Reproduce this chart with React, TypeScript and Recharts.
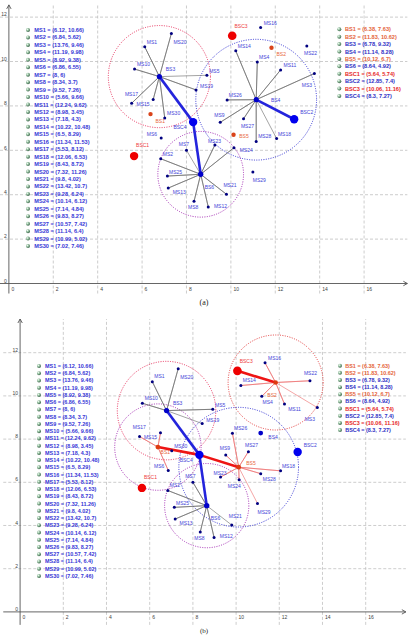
import React from 'react';
import { ScatterChart, Scatter, XAxis, YAxis, ReferenceLine } from 'recharts';

// mobile stations
const msX = [6.12, 6.84, 13.76, 11.19, 8.92, 6.86, 8, 8.34, 9.52, 5.66, 12.24, 8.98, 7.18, 10.22, 6.5,
  11.34, 5.53, 12.06, 8.43, 7.32, 9.8, 13.42, 9.28, 10.14, 7.14, 9.83, 10.57, 11.14, 10.99, 7.02];
const msY = [10.66, 5.62, 9.46, 9.98, 9.38, 6.55, 6, 3.7, 7.26, 9.66, 9.62, 3.45, 4.3, 10.48, 8.29,
  11.53, 8.12, 6.53, 8.72, 11.26, 4.02, 10.7, 6.24, 6.12, 4.84, 8.27, 7.42, 6.4, 5.02, 7.46];

// base stations + controllers
const bsNames = ['BS1', 'BS2', 'BS3', 'BS4', 'BS5', 'BS6', 'BSC1', 'BSC2', 'BSC3', 'BSC4'];
const bsX = [6.38, 11.83, 6.78, 11.14, 10.12, 8.64, 5.64, 12.85, 10.06, 8.3];
const bsY = [7.63, 10.62, 9.32, 8.28, 6.7, 4.92, 5.74, 7.4, 11.16, 7.27];

const xTicks = [0, 2, 4, 6, 8, 10, 12, 14, 16];
const yTicks = [0, 2, 4, 6, 8, 10, 12];

// (a)
const starsA = [
  { bs: 'BS3', ms: [1, 20, 10, 17, 15, 30, 19, 5] },
  { bs: 'BS4', ms: [14, 4, 11, 3, 26, 9, 27, 28, 18] },
  { bs: 'BS6', ms: [23, 24, 21, 12, 8, 13, 25, 2, 7] },
];
const backhaulA = [['BS3', 'BSC4'], ['BS6', 'BSC4'], ['BS4', 'BSC2']];
const coverA = [{ bs: 'BS3', r: 2.3 }, { bs: 'BS4', r: 2.72 }, { bs: 'BS6', r: 1.93 }];

// (b)
const starsB = [
  { bs: 'BS3', ms: [1, 20, 10, 5, 19] },
  { bs: 'BS1', ms: [17, 15, 6, 30] },
  { bs: 'BS2', ms: [16, 22, 14, 4, 11, 3] },
  { bs: 'BS5', ms: [26, 9, 27, 18, 28, 23, 24, 29] },
  { bs: 'BS6', ms: [7, 2, 25, 13, 8, 12, 21] },
];
const backhaulB = [['BS3', 'BSC4'], ['BS6', 'BSC4'], ['BS1', 'BSC4'], ['BS5', 'BSC4'], ['BS2', 'BSC3']];
const coverB = [{ bs: 'BS3', r: 2.28 }, { bs: 'BS2', r: 2.2 }, { bs: 'BS1', r: 2.0 }, { bs: 'BS5', r: 2.77 }, { bs: 'BS6', r: 1.95 }];

const FONT = '"Liberation Sans", Arial, sans-serif';
const ORANGE_DOT = '#d9431a';
const ORANGE_TXT = '#e8673a';
const BLUE_DOT = '#0000c8';
const BLUE_TXT = '#4444d8';
const RED_DOT = '#ee0000';
const RED_TXT = '#ee3c3c';
const PINK = '#e8305c';
const PURPLE = '#a42cb4';
const BLUE_C = '#3434d4';
const GRAY_LINE = '#666';
const RED_LINE = '#ec6a6a';

const bsText: Record<string, string> = {
  BS1: ORANGE_TXT, BS2: ORANGE_TXT, BS3: BLUE_TXT, BS4: BLUE_TXT, BS5: ORANGE_TXT, BS6: BLUE_TXT,
  BSC1: RED_TXT, BSC2: BLUE_TXT, BSC3: RED_TXT, BSC4: BLUE_TXT,
};
const bsLegendColor: Record<string, string> = {
  BS1: '#e5643a', BS2: '#e5643a', BS3: '#2e2ec4', BS4: '#2e2ec4', BS5: '#e5643a', BS6: '#2e2ec4',
  BSC1: '#e62626', BSC2: '#2e2ec4', BSC3: '#e62626', BSC4: '#2e2ec4',
};

// label offsets [dx, dy baseline] relative to the point
const labelOffA: Record<string, [number, number]> = {
  MS1: [2, -3.2], MS20: [2, 10.5], MS10: [2.4, -3.2], BS3: [6.4, -5.5], MS17: [-6.7, -7.2], MS15: [-16.6, 6.1],
  MS30: [2.4, -3.2], BS1: [5, 8.5], BSC4: [-19.7, 6.8], MS6: [-14.3, -2.6], BSC1: [2, -8.9], MS7: [-7.7, -4.2],
  MS2: [2, -3.2], MS25: [1.7, -2.5], MS13: [4.4, 6.2], MS8: [-6, 7.8], MS23: [-7, -2.2], MS24: [5.7, 4.5],
  MS21: [-3, -7.5], BS6: [4, 14.5], MS12: [5.7, 0.8], MS29: [0, 10.1], MS16: [3, -2.5], BSC3: [2.3, -7.5],
  MS14: [2, -3.2], BS2: [5, 8.5], MS4: [1.7, -2.6], MS22: [-2.7, 9.4], MS11: [3, -2.9], MS3: [-12.6, 13.8],
  MS5: [2.3, -2.5], MS19: [4, -1.7], MS26: [1.7, -2.9], BS4: [14.7, 2.5], BSC2: [6, -4.9], MS9: [-6, -4.9],
  MS27: [-2.6, 9.2], BS5: [5.7, 3.5], MS28: [2, -3.8], MS18: [1.3, -2.9],
};
const labelOffB: Record<string, [number, number]> = {
  BS2: [-8.3, 14.5], MS4: [0.7, 8], MS22: [-6, -6.2], MS11: [3.7, 6.8], BS4: [7.6, 5.8],
  MS27: [-3.4, -4.5], BS5: [7.6, -2.6], MS28: [2, 7.8], MS24: [-11.3, 8.5], BS1: [2.7, 7.4],
};

type Pt = { x: number; y: number; name: string; r?: number };

const ms: Pt[] = msX.map((x, i) => ({ x, y: msY[i], name: `MS${i + 1}` }));
const bs: Pt[] = bsNames.map((name, i) => ({ x: bsX[i], y: bsY[i], name }));
const bsBy: Record<string, Pt> = Object.fromEntries(bs.map((b) => [b.name, b]));

const Empty = () => <g />;

type Cfg = {
  top: number; height: number; unit: number;
  xDom: [number, number]; yDom: [number, number];
  margin: { top: number; right: number; bottom: number; left: number };
  stars: { bs: string; ms: number[] }[];
  starColor: Record<string, string>;
  backhaul: string[][];
  backhaulColor: Record<string, string>;
  cover: { bs: string; r: number }[];
  coverColor: Record<string, string>;
  bsDot: Record<string, { fill: string; r: number }>;
  labelOff: Record<string, [number, number]>;
};

const dotA: Record<string, { fill: string; r: number }> = {
  BS1: { fill: ORANGE_DOT, r: 2.2 }, BS2: { fill: ORANGE_DOT, r: 2.2 }, BS3: { fill: BLUE_DOT, r: 2.6 },
  BS4: { fill: BLUE_DOT, r: 2.6 }, BS5: { fill: ORANGE_DOT, r: 2.2 }, BS6: { fill: BLUE_DOT, r: 2.7 },
  BSC1: { fill: RED_DOT, r: 4.2 }, BSC2: { fill: '#0000ee', r: 4.2 }, BSC3: { fill: RED_DOT, r: 4.3 },
  BSC4: { fill: '#0000ee', r: 4.2 },
};
const dotB: Record<string, { fill: string; r: number }> = {
  ...dotA,
  BS1: { fill: '#dd3a10', r: 2.4 }, BS2: { fill: '#dd3a10', r: 2.3 }, BS5: { fill: '#dd3a10', r: 2.4 },
  BS4: { fill: BLUE_DOT, r: 2.4 },
};

const cfgA: Cfg = {
  top: 0, height: 300, unit: 22.2,
  xDom: [-0.4, 17.95], yDom: [-0.45, 12.55],
  margin: { top: 4.9, right: 4.63, bottom: 6.5, left: 0 },
  stars: starsA,
  starColor: { BS3: GRAY_LINE, BS4: GRAY_LINE, BS6: GRAY_LINE },
  backhaul: backhaulA,
  backhaulColor: { BS3: '#2424dc', BS6: '#2424dc', BS4: '#2424dc' },
  cover: coverA,
  coverColor: { BS3: PINK, BS4: BLUE_C, BS6: PURPLE },
  bsDot: dotA,
  labelOff: {},
};

const cfgB: Cfg = {
  top: 315, height: 320, unit: 21.6,
  xDom: [-0.78, 17.86], yDom: [-0.6, 13.56],
  margin: { top: 4, right: 6.13, bottom: 10.14, left: 3.25 },
  stars: starsB,
  starColor: { BS3: GRAY_LINE, BS6: GRAY_LINE, BS1: RED_LINE, BS2: RED_LINE, BS5: RED_LINE },
  backhaul: backhaulB,
  backhaulColor: { BS3: '#2424dc', BS6: '#2424dc', BS1: '#ee1414', BS5: '#ee1414', BS2: '#ee1414' },
  cover: coverB,
  coverColor: { BS3: PINK, BS2: '#e43c3c', BS1: PURPLE, BS5: BLUE_C, BS6: PURPLE },
  bsDot: dotB,
  labelOff: labelOffB,
};

function Panel({ cfg }: { cfg: Cfg }) {
  const U = cfg.unit;
  const off = (n: string): [number, number] => cfg.labelOff[n] ?? labelOffA[n] ?? [2, -3];
  const pay = (p: any) => (p.payload ?? p) as Pt;

  const msShape = (p: any) => {
    const d = pay(p);
    const [dx, dy] = off(d.name);
    return (
      <g>
        <circle cx={p.cx} cy={p.cy} r={1.5} fill="#000080" />
        <text x={p.cx + dx} y={p.cy + dy} fontSize={5} fontFamily={FONT} fill={BLUE_TXT}>{d.name}</text>
      </g>
    );
  };
  const bsShape = (p: any) => {
    const d = pay(p);
    const st = cfg.bsDot[d.name];
    const [dx, dy] = off(d.name);
    return (
      <g>
        <circle cx={p.cx} cy={p.cy} r={st.r} fill={st.fill} />
        <text x={p.cx + dx} y={p.cy + dy} fontSize={5} fontFamily={FONT} fill={bsText[d.name]}>{d.name}</text>
      </g>
    );
  };
  const coverShape = (p: any) => {
    const d = pay(p);
    return (
      <circle cx={p.cx} cy={p.cy} r={(d.r ?? 0) * U} fill="none" stroke={cfg.coverColor[d.name]}
        strokeWidth={1} strokeDasharray="1 1.4" />
    );
  };
  const xTickShape = (p: any) => (
    <text x={p.cx + 2.5} y={p.cy + 7.3} fontSize={5} fontFamily={FONT} fill="#444">{pay(p).name}</text>
  );
  const yTickShape = (p: any) => (
    <text x={p.cx - 2} y={p.cy - 0.8} fontSize={5} fontFamily={FONT} fill="#444" textAnchor="end">{pay(p).name}</text>
  );
  const arrowShape = (p: any) => {
    const d = pay(p);
    const pts = d.name === 'x'
      ? `${p.cx - 4},${p.cy - 2.2} ${p.cx},${p.cy} ${p.cx - 4},${p.cy + 2.2}`
      : `${p.cx - 2.2},${p.cy + 4} ${p.cx},${p.cy} ${p.cx + 2.2},${p.cy + 4}`;
    return <polyline points={pts} fill="none" stroke="#555" strokeWidth={0.9} />;
  };

  return (
    <div style={{ position: 'absolute', left: 0, top: cfg.top }}>
      <ScatterChart width={412} height={cfg.height} margin={cfg.margin}>
        <XAxis type="number" dataKey="x" domain={cfg.xDom} ticks={xTicks} height={0} tick={false}
          axisLine={false} tickLine={false} />
        <YAxis type="number" dataKey="y" domain={cfg.yDom} ticks={yTicks} width={0} tick={false}
          axisLine={false} tickLine={false} />
        {xTicks.filter((v) => v !== 0).map((v) => (
          <ReferenceLine key={'gx' + v} x={v} stroke="#c0c0c0" strokeWidth={0.8} strokeDasharray="3 2" />
        ))}
        {yTicks.filter((v) => v !== 0).map((v) => (
          <ReferenceLine key={'gy' + v} y={v} stroke="#c0c0c0" strokeWidth={0.8} strokeDasharray="3 2" />
        ))}
        <ReferenceLine x={0} stroke="#555" strokeWidth={0.9} />
        <ReferenceLine y={0} stroke="#555" strokeWidth={0.9} />
        <Scatter data={[{ x: cfg.xDom[1], y: 0, name: 'x' }, { x: 0, y: cfg.yDom[1], name: 'y' }]}
          shape={arrowShape} isAnimationActive={false} />
        <Scatter data={xTicks.map((v) => ({ x: v, y: 0, name: String(v) }))} shape={xTickShape} isAnimationActive={false} />
        <Scatter data={yTicks.map((v) => ({ x: 0, y: v, name: String(v) }))} shape={yTickShape} isAnimationActive={false} />
        <Scatter data={cfg.cover.map((c) => ({ ...bsBy[c.bs], r: c.r }))} shape={coverShape} isAnimationActive={false} />
        {cfg.stars.map((s) => {
          const b = bsBy[s.bs];
          const data = s.ms.flatMap((k) => [b, ms[k - 1]]);
          return (
            <Scatter key={'st' + s.bs} data={data} shape={Empty} lineType="joint"
              line={{ stroke: cfg.starColor[s.bs], strokeWidth: 0.6 }} stroke={cfg.starColor[s.bs]}
              isAnimationActive={false} />
          );
        })}
        {cfg.backhaul.map(([a, c]) => (
          <Scatter key={'bh' + a} data={[bsBy[a], bsBy[c]]} shape={Empty} lineType="joint"
            line={{ stroke: cfg.backhaulColor[a], strokeWidth: 2.6 }} stroke={cfg.backhaulColor[a]}
            isAnimationActive={false} />
        ))}
        <Scatter data={ms} shape={msShape} isAnimationActive={false} />
        <Scatter data={bs} shape={bsShape} isAnimationActive={false} />
      </ScatterChart>
    </div>
  );
}

function LegendList({ items, ballX, textX, y0, step, size }: {
  items: { text: string; color: string }[]; ballX: number; textX: number; y0: number; step: number; size: number;
}) {
  return (
    <g>
      {items.map((it, i) => (
        <g key={it.text}>
          <circle cx={ballX} cy={y0 + i * step} r={2} fill="url(#ball)" />
          <text x={textX} y={y0 + i * step} dominantBaseline="central" fontSize={size} fontWeight="bold"
            fontFamily={FONT} fill={it.color}>{it.text}</text>
        </g>
      ))}
    </g>
  );
}

export default function App() {
  const msItems = ms.map((m) => ({ text: `${m.name} = (${m.x}, ${m.y})`, color: '#3636d6' }));
  const bsItems = bs.map((b) => ({ text: `${b.name} = (${b.x}, ${b.y})`, color: bsLegendColor[b.name] }));
  return (
    <div style={{ position: 'absolute', left: 0, top: 0, width: 412, height: 635, background: '#fff', overflow: 'hidden' }}>
      <Panel cfg={cfgA} />
      <Panel cfg={cfgB} />
      <svg width={412} height={635} style={{ position: 'absolute', left: 0, top: 0, pointerEvents: 'none' }}>
        <defs>
          <radialGradient id="ball" cx="35%" cy="35%" r="70%">
            <stop offset="0%" stopColor="#f4fff6" />
            <stop offset="50%" stopColor="#86b392" />
            <stop offset="100%" stopColor="#3b6149" />
          </radialGradient>
        </defs>
        <LegendList items={msItems} ballX={28} textX={34.3} y0={30} step={7.45} size={5.6} />
        <LegendList items={bsItems} ballX={339.3} textX={345} y0={29.3} step={7.41} size={5.6} />
        <LegendList items={msItems} ballX={39} textX={45} y0={366} step={7.24} size={5.45} />
        <LegendList items={bsItems} ballX={340} textX={345.3} y0={365.7} step={7.15} size={5.45} />
        <text x={204} y={305} textAnchor="middle" fontSize={8} fontFamily='"Liberation Serif", serif' fill="#222">(a)</text>
        <text x={204} y={633} textAnchor="middle" fontSize={7} fontFamily='"Liberation Serif", serif' fill="#222">(b)</text>
      </svg>
    </div>
  );
}
